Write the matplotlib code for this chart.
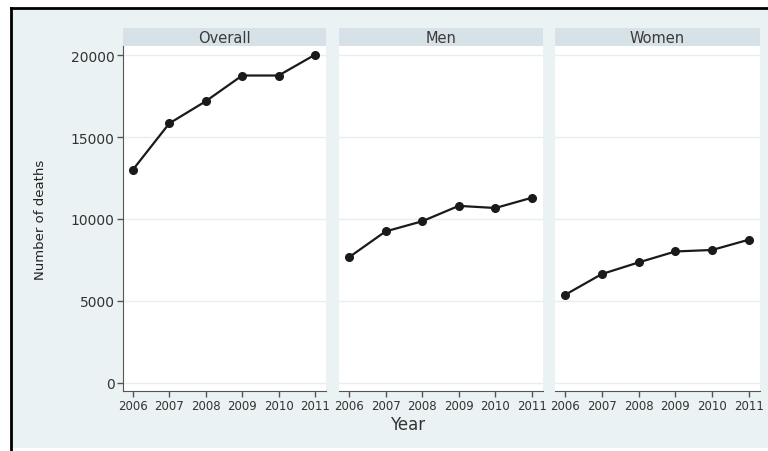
import matplotlib
matplotlib.use('Agg')
import matplotlib.pyplot as plt
from matplotlib.patches import Rectangle
from matplotlib.lines import Line2D

plt.rcParams['font.family'] = ['DejaVu Sans']

years = [2006, 2007, 2008, 2009, 2010, 2011]
panels = ['Overall', 'Men', 'Women']
overall = [13000, 15830, 17180, 18750, 18750, 20020]
men = [7660, 9240, 9860, 10800, 10670, 11300]
women = [5370, 6640, 7350, 8020, 8110, 8740]
series = [overall, men, women]
yticks = [0, 5000, 10000, 15000, 20000]

BG = '#eaf2f4'
HEADER = '#d6e2e8'
GRID = '#e6eef1'
AXC = '#555555'

W, H = 768, 452
fig = plt.figure(figsize=(W / 100, H / 100), dpi=100)
fig.patch.set_facecolor('white')


def px(x0, y0, x1, y1):
    # pixel box (top-left origin) -> figure fraction rect
    return [x0 / W, 1 - y1 / H, (x1 - x0) / W, (y1 - y0) / H]


# light background and black frame (top + left)
fig.add_artist(Rectangle((12 / W, 1 - 449 / H), (W - 12) / W, 439 / H,
                         transform=fig.transFigure, facecolor=BG, edgecolor='none', zorder=0))
fig.add_artist(Line2D([11 / W, 1], [1 - 9 / H, 1 - 9 / H], transform=fig.transFigure,
                      color='black', lw=2))
fig.add_artist(Line2D([11 / W, 11 / W], [1 - 9 / H, 0], transform=fig.transFigure,
                      color='black', lw=2))

lefts = [(123, 326), (339, 543), (555, 760)]
for i, (name, vals) in enumerate(zip(panels, series)):
    x0, x1 = lefts[i]
    hax = fig.add_axes(px(x0, 29, x1, 47))
    hax.set_facecolor(HEADER)
    hax.set_xticks([])
    hax.set_yticks([])
    for s in hax.spines.values():
        s.set_visible(False)
    hax.text(0.5, 0.48, name, ha='center', va='center', fontsize=10.5, color='#3a3a3a',
             transform=hax.transAxes)

    ax = fig.add_axes(px(x0, 47, x1, 392))
    ax.set_facecolor('white')
    ax.plot(years, vals, color='#1a1a1a', lw=1.6, marker='o', markersize=5.5, zorder=3)
    ax.set_xlim(2005.73, 2011.3)
    ax.set_ylim(-490, 20550)
    ax.set_yticks(yticks)
    ax.set_xticks(years)
    ax.grid(axis='y', color=GRID, lw=1)
    ax.set_axisbelow(True)
    for side in ['top', 'right']:
        ax.spines[side].set_visible(False)
    ax.spines['bottom'].set_color(AXC)
    ax.spines['left'].set_color(AXC)
    ax.tick_params(axis='both', colors=AXC, labelcolor='#333333', labelsize=8.5,
                   length=4, width=1, direction='out', pad=2)
    if i == 0:
        ax.set_yticklabels([str(v) for v in yticks], fontsize=10)
    else:
        ax.spines['left'].set_visible(False)
        ax.tick_params(axis='y', left=False, labelleft=False)

fig.text(40 / W, 1 - 220 / H, 'Number of deaths', rotation=90, ha='center', va='center',
         fontsize=9.5, color='#222222')
fig.text(408 / W, 1 - 425 / H, 'Year', ha='center', va='center', fontsize=12,
         color='#333333')

fig.savefig('out.png', dpi=100, facecolor=fig.get_facecolor())
